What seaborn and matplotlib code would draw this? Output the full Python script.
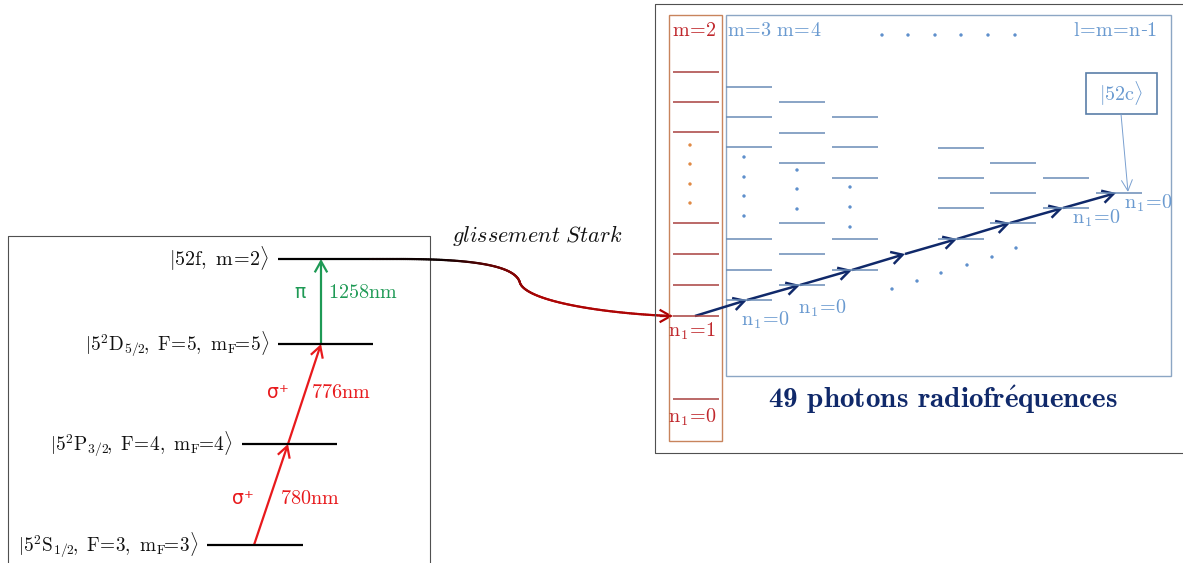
import numpy as np
import matplotlib
matplotlib.use('Agg')
import matplotlib.pyplot as plt
import seaborn as sns
import pandas as pd
from matplotlib.patches import Rectangle, FancyArrowPatch
from matplotlib.collections import LineCollection

sns.set_theme(style='white')
plt.rcParams['mathtext.fontset'] = 'cm'
plt.rcParams['font.family'] = ['DejaVu Serif', 'DejaVu Sans']

# ---------------- data ----------------
# left panel: laser excitation ladder (energy axis in figure units, top = high)
ladder_labels = [r'$|5^2\mathrm{S}_{1/2}\!,\ \mathrm{F}\!=\!3,\ \mathrm{m_F}\!\!=\!3\rangle$',
                 r'$|5^2\mathrm{P}_{3/2}\!,\ \mathrm{F}\!=\!4,\ \mathrm{m_F}\!\!=\!4\rangle$',
                 r'$|5^2\mathrm{D}_{5/2}\!,\ \mathrm{F}\!=\!5,\ \mathrm{m_F}\!\!=\!5\rangle$',
                 r'$|52\mathrm{f},\ \mathrm{m}\!=\!2\rangle$']
ladder_energy = [545, 444, 344, 259]
ladder_start = [207, 242, 278, 278]
ladder_end = [303, 337, 373, 370]
transition_wavelengths = ['780nm', '776nm', '1258nm']
transition_polarisation = ['σ\u207a', 'σ\u207a', 'π']
transition_x = [254, 288, 321, 321]

# right panel: Stark manifold, one column per m
col_m = [2, 3, 4, 5, 7, 8, 9, 10]
col_x = [673, 726, 779, 832, 938, 990, 1043, 1096]
m2_levels = [72, 102, 132, 223, 254, 285, 316, 399]
m3_levels = [87, 117, 147, 239, 270, 300]
m4_levels = [102, 133, 163, 223, 254, 285]
m5_levels = [117, 147, 178, 239, 270]
m7_levels = [148, 178, 208, 239]
m8_levels = [163, 193, 223]
m9_levels = [178, 208]
m10_levels = [193]
col_levels = [m2_levels, m3_levels, m4_levels, m5_levels,
              m7_levels, m8_levels, m9_levels, m10_levels]
m2_dots = [145, 164, 184, 203]
m3_dots = [157, 177, 196, 216]
m4_dots = [170, 189, 209]
m5_dots = [187, 207, 227]
# rf photon path (circular-state ladder), n1=1 of m=2 up to |52c>
path_x = [695, 747, 800, 852, 905, 957, 1010, 1063, 1116]
path_y = [316, 300, 285, 270, 254, 239, 223, 208, 193]
diag_dots_x = [892, 917, 941, 967, 992, 1016]
diag_dots_y = [289, 281, 273, 265, 257, 248]
top_dots_x = [882, 908, 935, 961, 988, 1015]

# ---------------- figure ----------------
W, H = 1183, 563
fig = plt.figure(figsize=(W / 100, H / 100), dpi=100)
ax = fig.add_axes([0, 0, 1, 1])

FS = 14.5
RED = '#E8191C'
GREEN = '#1E9A55'
DRED = '#A8403E'
BLUE_L = '#6A8CB6'
BLUE_T = '#6A9AD0'
NAVY = '#10296A'
BOX = '#505050'

def tx(x, y, s, **kw):
    kw.setdefault('fontsize', FS)
    ax.text(x, y, s, **kw)

def arrow(p0, p1, color, lw=1.5, hl=0.7, hw=0.4, ms=10):
    a = FancyArrowPatch(p0, p1, arrowstyle=f'->,head_length={hl},head_width={hw}',
                        mutation_scale=ms, color=color, lw=lw, shrinkA=0, shrinkB=0,
                        joinstyle='miter', capstyle='butt')
    ax.add_patch(a)

# dots (seaborn scatter) drawn first, then axes fixed
dots = pd.DataFrame({
    'x': [690] * len(m2_dots) + [744] * len(m3_dots) + [797] * len(m4_dots) + [850] * len(m5_dots)
         + diag_dots_x + top_dots_x,
    'y': m2_dots + m3_dots + m4_dots + m5_dots + diag_dots_y + [35] * len(top_dots_x),
    'kind': ['m2'] * len(m2_dots) + ['rf'] * (len(m3_dots) + len(m4_dots) + len(m5_dots)
                                              + len(diag_dots_x) + len(top_dots_x)),
})
sns.scatterplot(data=dots, x='x', y='y', hue='kind', palette={'m2': '#E08A45', 'rf': '#5F90CC'},
                s=6, linewidth=0, legend=False, ax=ax)
ax.set_xlim(0, W)
ax.set_ylim(H, 0)
ax.axis('off')

# ---- left panel box
ax.plot([8, 8, 430, 430], [H + 5, 236, 236, H + 5], color=BOX, lw=0.8)

for lab, e, x0, x1 in zip(ladder_labels, ladder_energy, ladder_start, ladder_end):
    ax.plot([x0, x1], [e, e], color='black', lw=1.6, solid_capstyle='butt')
    fs = FS if 'f' in lab.split(',')[0] else 13.9
    tx(x0 - 9, e, lab, ha='right', va='center', color='#111111', fontsize=fs)

# transitions
cols = [RED, RED, GREEN]
for i in range(3):
    p0 = (transition_x[i], ladder_energy[i])
    p1 = (transition_x[i + 1], ladder_energy[i + 1])
    arrow(p0, p1, cols[i], lw=1.6, hl=0.8, hw=0.45)
lab_pos = [(243, 498, 280), (278, 392, 311), (300, 292, 328)]
for (px, y, wx), pol, wl, c in zip(lab_pos, transition_polarisation, transition_wavelengths, cols):
    tx(px, y, pol, ha='center', va='center', color=c, fontsize=13.5, fontfamily='DejaVu Sans')
    tx(wx, y, r'$\mathrm{' + wl + '}$', ha='left', va='center', color=c)

# Stark shift curve with gradient black -> red
def bez(p0, p1, p2, p3, n=120):
    t = np.linspace(0, 1, n)[:, None]
    p0, p1, p2, p3 = map(np.asarray, (p0, p1, p2, p3))
    return (1 - t) ** 3 * p0 + 3 * (1 - t) ** 2 * t * p1 + 3 * (1 - t) * t ** 2 * p2 + t ** 3 * p3

seg0 = np.column_stack([np.linspace(370, 400, 10), np.full(10, 259.0)])
seg1 = bez((400, 259), (475, 259), (516, 266), (520, 283))
seg2 = bez((520, 283), (527, 301), (600, 313), (670, 316))
pts = np.vstack([seg0, seg1, seg2])
segs = np.stack([pts[:-1], pts[1:]], axis=1)
xm = (pts[:-1, 0] + pts[1:, 0]) / 2
f = np.clip((xm - 440) / 100, 0, 1)[:, None]
c0 = np.array([0.05, 0.0, 0.0])
c1 = np.array([0.68, 0.02, 0.02])
colors = c0 * (1 - f) + c1 * f
ax.add_collection(LineCollection(segs, colors=colors, lw=1.6, capstyle='round'))
arrow((660, 316), (673, 316), '#B00000', lw=1.6, hl=0.8, hw=0.45)
tx(537, 236, r'$\mathit{glissement\ Stark}$', ha='center', va='center', color='#111111',
   fontsize=16)

# ---- right panel boxes
ax.plot([1183, 655, 655, 1183], [4, 4, 453, 453], color=BOX, lw=0.8)
ax.add_patch(Rectangle((669, 15), 53, 426, fill=False, ec='#C8845C', lw=1.0))
ax.add_patch(Rectangle((726, 15), 445, 361, fill=False, ec='#8CA6C4', lw=1.0))

for m, x0, levels in zip(col_m, col_x, col_levels):
    c = DRED if m == 2 else BLUE_L
    ax.hlines(levels, x0, x0 + 46, color=c, lw=1.1)

# rf photon arrows
for i in range(len(path_x) - 1):
    arrow((path_x[i], path_y[i]), (path_x[i + 1], path_y[i + 1]), NAVY, lw=1.8, hl=0.8, hw=0.45)

# labels
tx(694, 30, r'$\mathrm{m\!=\!2}$', ha='center', va='center', color='#C0282D')
tx(727, 30, r'$\mathrm{m\!=\!3\ m\!=\!4}$', ha='left', va='center', color=BLUE_T)
tx(1157, 30, '$\\mathrm{l\\!=\\!m\\!=\\!n}$-$\\mathrm{1}$', ha='right', va='center', color=BLUE_T)
tx(692, 331, r'$\mathrm{n_1\!=\!1}$', ha='center', va='center', color='#C0282D')
tx(692, 417, r'$\mathrm{n_1\!=\!0}$', ha='center', va='center', color='#C0282D')
for (x, y) in [(765, 320), (822, 308), (1096, 218), (1148, 203)]:
    tx(x, y, r'$\mathrm{n_1\!=\!0}$', ha='center', va='center', color=BLUE_T)

ax.add_patch(Rectangle((1086, 73), 71, 41, fill=False, ec='#5A7EA8', lw=1.2))
tx(1121, 94, r'$|52\mathrm{c}\rangle$', ha='center', va='center', color=BLUE_T)
arrow((1121, 114), (1128, 192), '#7AA0D0', lw=0.7, hl=0.8, hw=0.4)

tx(943, 400, r'49 photons radiofr$\acute{\mathbf{e}}$quences', ha='center', va='center',
   color=NAVY, fontsize=21, fontfamily='cmb10')

fig.savefig('out.png', dpi=100)
